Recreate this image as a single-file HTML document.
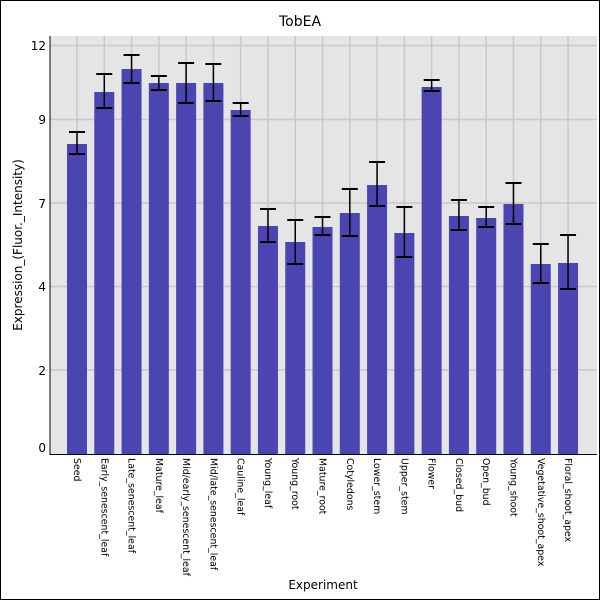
<!DOCTYPE html>
<html><head><meta charset="utf-8"><style>
html,body{margin:0;padding:0;background:#fff;}
svg{display:block;font-family:"DejaVu Sans","Liberation Sans",sans-serif;}
</style></head><body>
<svg width="600" height="600" xmlns="http://www.w3.org/2000/svg">
<rect x="0.5" y="0.5" width="599" height="599" fill="#fff" stroke="#000"/>
<text x="300" y="26" font-size="14" text-anchor="middle">TobEA</text>
<rect x="50" y="36" width="547" height="418" fill="#e5e5e5"/>
<g stroke="#c8c8c8" stroke-width="1.5">
<line x1="50" x2="597" y1="45.5" y2="45.5"/>
<line x1="50" x2="597" y1="119.5" y2="119.5"/>
<line x1="50" x2="597" y1="203" y2="203"/>
<line x1="50" x2="597" y1="286.5" y2="286.5"/>
<line x1="50" x2="597" y1="370" y2="370"/>
</g>
<g id="vg" stroke="#c8c8c8" stroke-width="1.5"></g>
<g id="bars"></g>
<line x1="50" y1="36" x2="50" y2="455" stroke="#000"/>
<line x1="50" y1="454.5" x2="597" y2="454.5" stroke="#000"/>
<g font-size="12" text-anchor="end">
<text x="46" y="50">12</text>
<text x="46" y="124">9</text>
<text x="46" y="208">7</text>
<text x="46" y="291">4</text>
<text x="46" y="375">2</text>
<text x="46" y="452">0</text>
</g>
<text transform="translate(22,245) rotate(-90)" font-size="12" text-anchor="middle">Expression_(Fluor._Intensity)</text>
<text x="323" y="589" font-size="12" text-anchor="middle">Experiment</text>
<g id="xl" font-size="9.4"></g>
</svg>
<script>
var d=[["Seed",144,132,154],["Early_senescent_leaf",92,74,108],["Late_senescent_leaf",69,55,83],["Mature_leaf",83,76,90],["Mid/early_senescent_leaf",83,63,103],["Mid/late_senescent_leaf",83,64,101],["Cauline_leaf",110,103,116],["Young_leaf",226,209,242],["Young_root",242,220,264],["Mature_root",227,217,235],["Cotyledons",213,189,236],["Lower_stem",185,162,206],["Upper_stem",233,207,257],["Flower",87,80,91],["Closed_bud",216,200,230],["Open_bud",218,207,227],["Young_shoot",204,183,224],["Vegetative_shoot_apex",264,244,283],["Floral_shoot_apex",263,235,289]];
var ns="http://www.w3.org/2000/svg",vg=document.getElementById("vg"),b=document.getElementById("bars"),xl=document.getElementById("xl");
function el(t,a,p,tx){var e=document.createElementNS(ns,t);for(var k in a)e.setAttribute(k,a[k]);if(tx)e.textContent=tx;p.appendChild(e);return e;}
d.forEach(function(r,i){var c=77+i*27.28;
el("line",{x1:c,x2:c,y1:36,y2:454},vg);
el("rect",{x:c-10,y:r[1],width:20,height:454-r[1],fill:"#4b45b2"},b);
el("line",{x1:c,x2:c,y1:r[2],y2:r[3],stroke:"#000","stroke-width":1.5},b);
el("line",{x1:c-8,x2:c+8,y1:r[2],y2:r[2],stroke:"#000","stroke-width":2},b);
el("line",{x1:c-8,x2:c+8,y1:r[3],y2:r[3],stroke:"#000","stroke-width":2},b);
el("text",{transform:"translate("+(c-3)+",458) rotate(90)"},xl,r[0]);
});
</script>
</body></html>
